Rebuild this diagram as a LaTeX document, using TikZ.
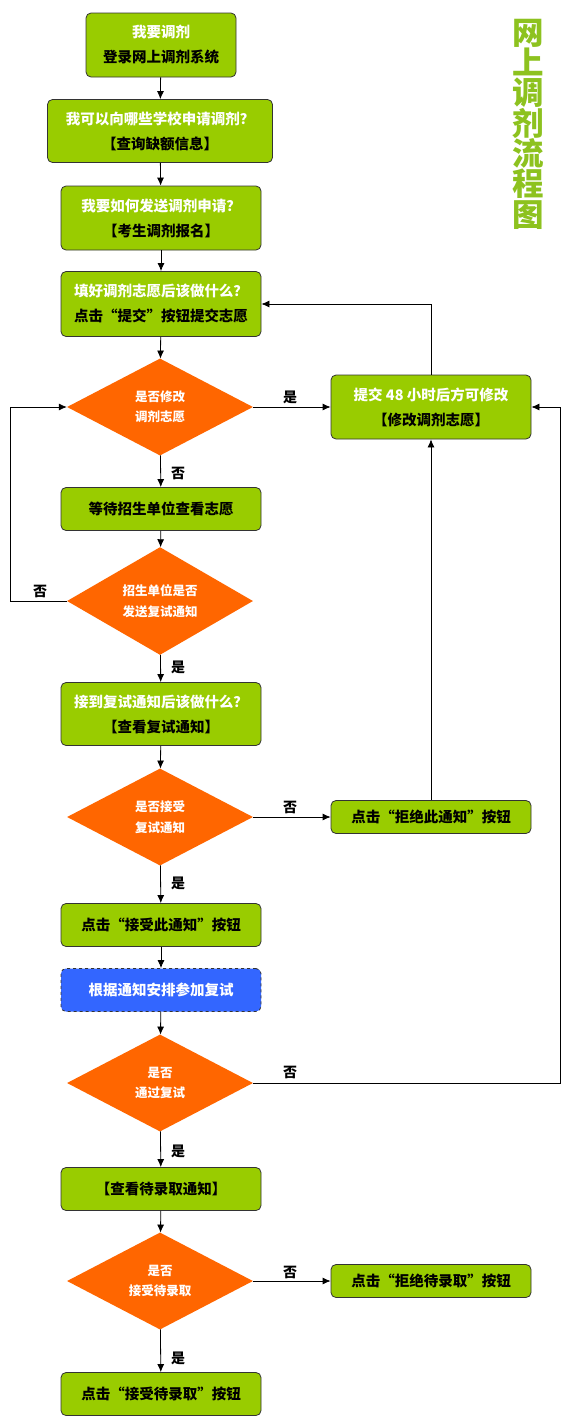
\documentclass[tikz,border=0pt]{standalone}
\usepackage{fontspec}
\setmainfont{Noto Sans CJK SC}
\usetikzlibrary{shapes.geometric,arrows.meta}
\definecolor{boxgreen}{HTML}{99CC00}
\definecolor{dorange}{HTML}{FF6600}
\definecolor{bblue}{HTML}{3366FF}
\definecolor{titlegreen}{HTML}{8DC21F}
\definecolor{edge}{HTML}{333333}
\tikzset{
  gbox/.style={draw=edge, line width=0.8pt, fill=boxgreen, rounded corners=5pt,
    align=center, inner sep=0pt, font=\fontsize{14.5}{25}\selectfont\bfseries},
  bbox/.style={gbox, fill=bblue, dashed, text=white},
  dia/.style={diamond, fill=dorange, inner sep=0pt, align=center, text=white,
    font=\fontsize{12.5}{20.5}\selectfont\bfseries},
  lbl/.style={font=\fontsize{14}{14}\selectfont\bfseries, inner sep=0pt},
  arr/.style={draw=black, line width=0.8pt, -{Latex[length=8pt,width=7pt]}},
  ln/.style={draw=black, line width=0.8pt}
}
\newcommand{\wl}[1]{\textcolor{white}{#1}}
\begin{document}
\begin{tikzpicture}[x=1pt,y=-1pt]
\useasboundingbox[fill=white] (0,0) rectangle (580,1427);

% title
\node[font=\fontsize{31.5}{30.3}\selectfont\bfseries, text=titlegreen, align=center, inner sep=0pt]
  (title) at (528,124) {网\\上\\调\\剂\\流\\程\\图};

% main column
\node[gbox, minimum width=150pt, minimum height=64pt] (b1) at (161,45) {\wl{我要调剂}\\登录网上调剂系统};
\node[gbox, minimum width=225pt, minimum height=63pt] (b2) at (160,131) {\wl{我可以向哪些学校申请调剂？}\\【查询缺额信息】};
\node[gbox, minimum width=200pt, minimum height=64pt] (b3) at (161,218) {\wl{我要如何发送调剂申请？}\\【考生调剂报名】};
\node[gbox, minimum width=200pt, minimum height=65pt] (b4) at (161,304) {\wl{填好调剂志愿后该做什么？}\\点击“提交”按钮提交志愿};
\node[dia, minimum width=186pt, minimum height=97pt] (d1) at (160,407) {是否修改\\调剂志愿};
\node[gbox, minimum width=200pt, minimum height=64pt] (r1) at (431,407) {\wl{提交 48 小时后方可修改}\\【修改调剂志愿】};
\node[gbox, minimum width=200pt, minimum height=43pt] (b5) at (161,509) {等待招生单位查看志愿};
\node[dia, minimum width=186pt, minimum height=97pt] (d2) at (160,601) {招生单位是否\\发送复试通知};
\node[gbox, minimum width=200pt, minimum height=63pt] (b6) at (161,714) {\wl{接到复试通知后该做什么？}\\【查看复试通知】};
\node[dia, minimum width=186pt, minimum height=97pt] (d3) at (160,817) {是否接受\\复试通知};
\node[gbox, minimum width=200pt, minimum height=33pt] (r2) at (431,817) {点击“拒绝此通知”按钮};
\node[gbox, minimum width=200pt, minimum height=43pt] (b7) at (161,925) {点击“接受此通知”按钮};
\node[bbox, minimum width=200pt, minimum height=43pt] (b8) at (161,990) {根据通知安排参加复试};
\node[dia, minimum width=186pt, minimum height=97pt] (d4) at (160,1083) {是否\\通过复试};
\node[gbox, minimum width=200pt, minimum height=43pt] (b9) at (161,1189) {【查看待录取通知】};
\node[dia, minimum width=186pt, minimum height=97pt] (d5) at (160,1281) {是否\\接受待录取};
\node[gbox, minimum width=200pt, minimum height=33pt] (r3) at (431,1281) {点击“拒绝待录取”按钮};
\node[gbox, minimum width=200pt, minimum height=43pt] (b10) at (161,1394) {点击“接受待录取”按钮};

% helper coordinates
\coordinate (lft) at (10,0);
\coordinate (rgt) at (560,0);

% vertical chain
\draw[arr] (b1) -- (b2);
\draw[arr] (b2) -- (b3);
\draw[arr] (b3) -- (b4);
\draw[arr] (b4) -- (d1);
\draw[arr] (d1) -- (b5);
\draw[arr] (b5) -- (d2);
\draw[arr] (d2) -- (b6);
\draw[arr] (b6) -- (d3);
\draw[arr] (d3) -- (b7);
\draw[arr] (b7) -- (b8);
\draw[arr] (b8) -- (d4);
\draw[arr] (d4) -- (b9);
\draw[arr] (b9) -- (d5);
\draw[arr] (d5) -- (b10);

% side branches
\draw[arr] (d1.east) -- (r1.west);
\draw[arr] (r1.north) |- (b4.east);
\draw[arr] (d2.west) -| (lft |- d1.west) -- (d1.west);
\draw[arr] (d3.east) -- (r2.west);
\draw[arr] (r2.north) -- (r1.south);
\draw[arr] (d4.east) -| (rgt |- r1.east) -- (r1.east);
\draw[arr] (d5.east) -- (r3.west);

% labels
\node[lbl] (l1) at (290,397) {是};
\node[lbl] (l2) at (178,473) {否};
\node[lbl] (l3) at (40,591) {否};
\node[lbl] (l4) at (178,667) {是};
\node[lbl] (l5) at (290,807) {否};
\node[lbl] (l6) at (178,883) {是};
\node[lbl] (l7) at (290,1072) {否};
\node[lbl] (l8) at (178,1151) {是};
\node[lbl] (l9) at (290,1272) {否};
\node[lbl] (l10) at (178,1358) {是};
\end{tikzpicture}
\end{document}
